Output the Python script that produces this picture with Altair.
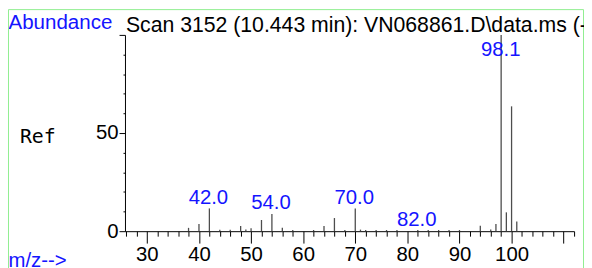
import altair as alt
import pandas as pd

# ---- data ----
mz = [38, 40, 42, 44, 46, 48, 49, 50, 52, 54, 56, 58, 62, 64, 66, 68, 70, 71,
      72, 74, 76, 78, 82, 84, 86, 88, 90, 94, 96, 97, 98, 99, 100, 101]
abundance = [1.7, 3.7, 11.6, 0.7, 0.7, 2.7, 0.8, 1.5, 5.7, 8.8, 1.7, 0.6, 0.6, 2.7, 6.7, 0.6, 11.6, 0.8,
             0.6, 0.6, 0.6, 0.6, 0.6, 0.6, 0.6, 0.6, 0.6, 2.8, 0.9, 3.7, 100, 9.6, 63.6, 4.9]

label_text = ["42.0", "54.0", "70.0", "82.0", "98.1"]
label_mz = [42.0, 54.0, 70.0, 82.0, 98.1]
label_abund = [11.6, 8.8, 11.6, 0.6, 100]

x_ticks = list(range(26, 113, 2))
y_ticks = list(range(0, 101, 10))

title_text = "Scan 3152 (10.443 min): VN068861.D\\data.ms (-)"

BLUE = "#1414ff"
FONT = "Liberation Sans"

peaks = pd.DataFrame({"mz": mz, "ab": abundance})
labels = pd.DataFrame({"t": label_text, "mz": label_mz, "ab": label_abund})
one = pd.DataFrame({"k": [0]})

xscale = alt.Scale(domain=[25.8, 112], nice=False, zero=False)
yscale = alt.Scale(domain=[0, 100], nice=False)

xaxis = alt.Axis(
    values=x_ticks, tickCount=500, format="d",
    tickSize={"condition": {"test": "datum.value % 10 === 0", "value": 12}, "value": 5},
    labelExpr="(datum.value % 10 === 0 && datum.value <= 100) ? datum.label : ''",
    labelFont=FONT, labelFontSize=20.5, labelColor="black", labelPadding=2,
    labelOverlap=False, labelFlush=False,
    tickColor="black", domainColor="black", grid=False,
    title="m/z-->", titleX=-118, titleY=36, titleAlign="left", titleBaseline="alphabetic",
    titleColor=BLUE, titleFont=FONT, titleFontSize=20.5, titleFontWeight="normal",
)
yaxis = alt.Axis(
    values=y_ticks, tickCount=500, format="d",
    tickSize={"condition": {"test": "datum.value % 50 === 0", "value": 6}, "value": 2},
    labelExpr="(datum.value === 0 || datum.value === 50) ? datum.label : ''",
    labelFont=FONT, labelFontSize=20.5, labelColor="black", labelPadding=1,
    labelOverlap=False, labelFlush=False,
    tickColor="black", domainColor="black", grid=False,
    title="Abundance", titleX=-118, titleY=-6.5, titleAngle=0, titleAlign="left",
    titleBaseline="alphabetic", titleColor=BLUE, titleFont=FONT, titleFontSize=20.7,
    titleFontWeight="normal",
)

rules = alt.Chart(peaks).mark_rule(color="#4d4d4d", strokeWidth=1.3).encode(
    x=alt.X("mz:Q", scale=xscale, axis=xaxis),
    y=alt.Y("ab:Q", scale=yscale, axis=yaxis),
    y2=alt.datum(0),
)

texts = alt.Chart(labels).transform_calculate(
    ly="min(datum.ab, 87)"
).mark_text(
    color=BLUE, font=FONT, fontSize=20.5, baseline="alphabetic", align="center", dy=-4.5, dx=-1
).encode(
    x=alt.X("mz:Q", scale=xscale),
    y=alt.Y("ly:Q", scale=yscale),
    text="t:N",
)

ref = alt.Chart(one).mark_text(
    text="Ref", font="DejaVu Sans Mono", fontSize=20, color="black", align="left", baseline="alphabetic"
).encode(x=alt.value(-106), y=alt.value(109))

title = alt.Chart(one).mark_text(
    text=title_text, font=FONT, fontSize=21.4, color="black", align="left", baseline="alphabetic"
).encode(x=alt.value(1), y=alt.value(-3))

border = alt.Chart(one).mark_rect(filled=False, stroke="#90ee90", strokeWidth=1).encode(
    x=alt.value(-117.5), x2=alt.value(462.5), y=alt.value(-25.5), y2=alt.value(260)
)

chart = alt.layer(border, rules, texts, ref, title).properties(
    width=453, height=198,
    padding={"left": 118, "top": 26, "right": 10, "bottom": 36},
    autosize="none",
).configure_view(strokeWidth=0)

chart.save("out.html", embed_options={"renderer": "svg", "actions": False})
